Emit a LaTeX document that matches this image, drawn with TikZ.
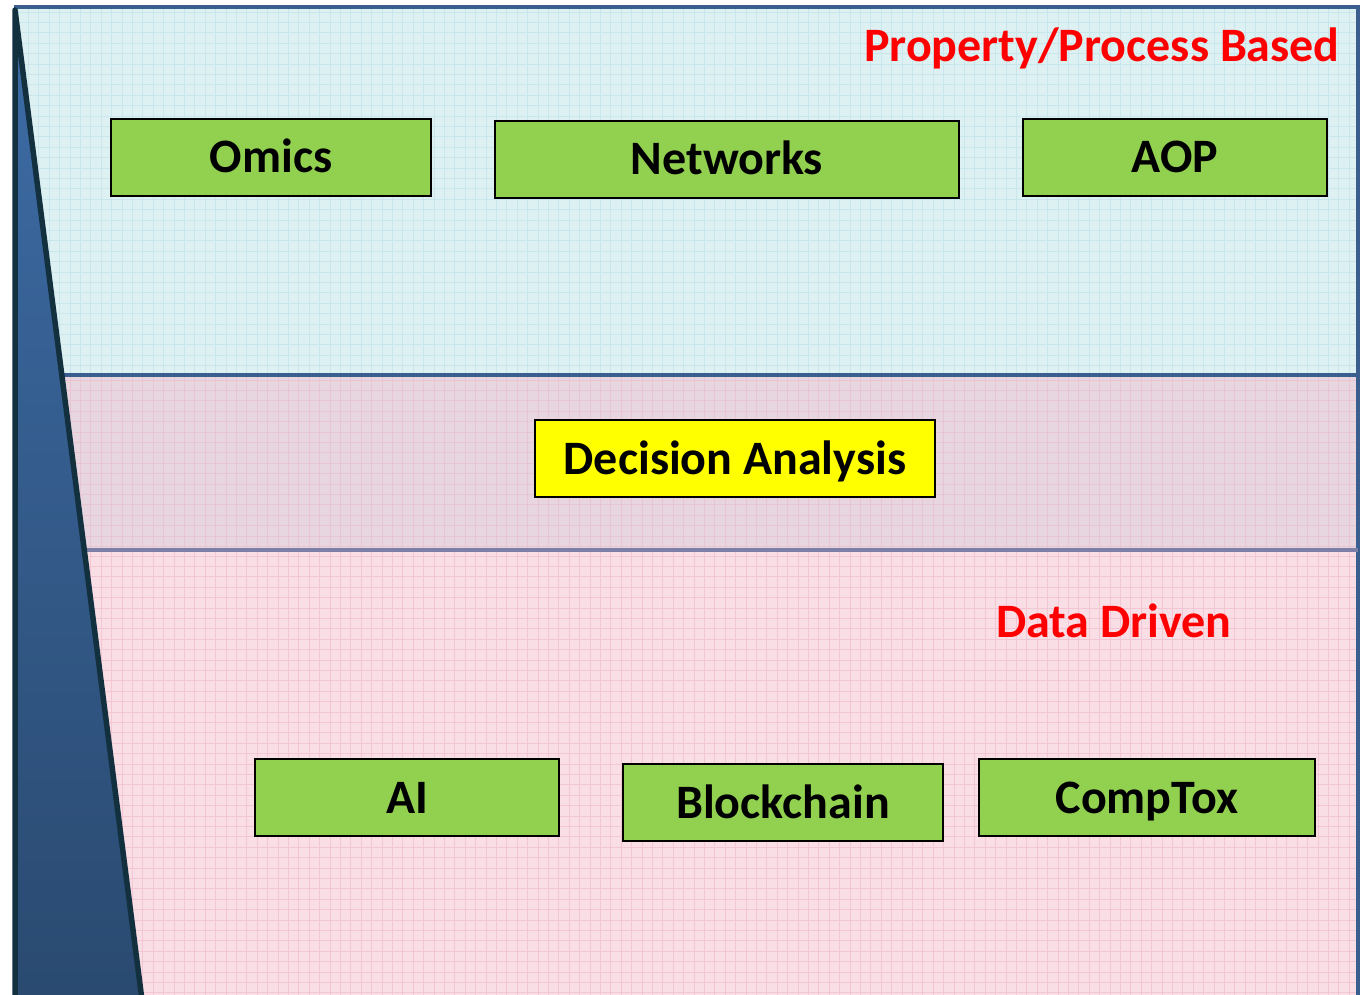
\documentclass[tikz,border=0pt]{standalone}
\usepackage{fontspec}
\setmainfont{Carlito}
\definecolor{bandtop}{HTML}{DDF1F3}
\definecolor{gridtop}{HTML}{C8E6EB}
\definecolor{bandmid}{HTML}{E7D6DF}
\definecolor{gridmid}{HTML}{E9C4D2}
\definecolor{bandlow}{HTML}{F9DEE6}
\definecolor{gridlow}{HTML}{F2C6D3}
\definecolor{rule}{HTML}{3A5F8E}
\definecolor{rulemid}{HTML}{7C7FA8}
\definecolor{wedgetop}{HTML}{3D6CA6}
\definecolor{wedgelow}{HTML}{2A4A70}
\definecolor{wedgeline}{HTML}{13303F}
\definecolor{boxgreen}{HTML}{92D050}
\definecolor{boxyellow}{HTML}{FFFF00}
\definecolor{labelred}{HTML}{FF0000}
\begin{document}
\begin{tikzpicture}[x=1pt,y=-1pt,
  tile/.style={draw=black, line width=1.8pt, minimum height=77pt,
    inner sep=0pt, text height=31pt, text depth=0pt,
    font=\bfseries\fontsize{48}{57}\selectfont},
  greentile/.style={tile, fill=boxgreen},
  yellowtile/.style={tile, fill=boxyellow},
  bandlabel/.style={text=labelred, inner sep=0pt, font=\bfseries\fontsize{48}{57}\selectfont},
  gridline/.style={line width=0.7pt}]
\useasboundingbox (0,0) rectangle (1361,995);

% three horizontal bands
\fill[bandtop] (14,6) rectangle (1358,375);
\fill[bandmid] (14,375) rectangle (1358,550);
\fill[bandlow] (14,550) rectangle (1358,995);

% faint graph-paper texture in each band
\begin{scope}
  \clip (14,6) rectangle (1358,375);
  \foreach \gx in {18,28.4,...,1360} \draw[gridtop,gridline] (\gx,6) -- (\gx,375);
  \foreach \gy in {12,22.4,...,375} \draw[gridtop,gridline] (14,\gy) -- (1358,\gy);
\end{scope}
\begin{scope}
  \clip (14,375) rectangle (1358,550);
  \foreach \gx in {18,28.4,...,1360} \draw[gridmid,gridline] (\gx,375) -- (\gx,550);
  \foreach \gy in {380,390.4,...,550} \draw[gridmid,gridline] (14,\gy) -- (1358,\gy);
\end{scope}
\begin{scope}
  \clip (14,550) rectangle (1358,995);
  \foreach \gx in {18,28.4,...,1360} \draw[gridlow,gridline] (\gx,550) -- (\gx,995);
  \foreach \gy in {556,566.4,...,995} \draw[gridlow,gridline] (14,\gy) -- (1358,\gy);
\end{scope}

% frame and dividers
\draw[rule, line width=4pt] (14,7) -- (1358,7);
\draw[rule, line width=4pt] (1358,5) -- (1358,995);
\draw[rule, line width=4pt] (14,375) -- (1358,375);
\draw[rulemid, line width=4pt] (14,550) -- (1358,550);

% the wedge on the left
\shade[top color=wedgetop, bottom color=wedgelow]
  (15,10) -- (142,997) -- (15,997) -- cycle;
\draw[wedgeline, line width=5.5pt, line join=round, line cap=round]
  (142,1000) -- (15,10) -- (15,1000);

% band titles
\node[bandlabel, anchor=base east] (ppb) at (1340,62) {Property/Process Based};
\node[bandlabel, anchor=base west] (dd) at (996,637) {Data Driven};

% method tiles
\node[greentile, minimum width=320pt] (omics) at (271,157.5) {Omics};
\node[greentile, minimum width=464pt] (networks) at (727,159.5) {Networks};
\node[greentile, minimum width=304pt] (aop) at (1175,157.5) {AOP};
\node[yellowtile, minimum width=400pt] (decision) at (735,458.5) {Decision Analysis};
\node[greentile, minimum width=304pt] (ai) at (407,797.5) {AI};
\node[greentile, minimum width=320pt] (blockchain) at (783,802.5) {Blockchain};
\node[greentile, minimum width=336pt] (comptox) at (1147,797.5) {CompTox};
\end{tikzpicture}
\end{document}
